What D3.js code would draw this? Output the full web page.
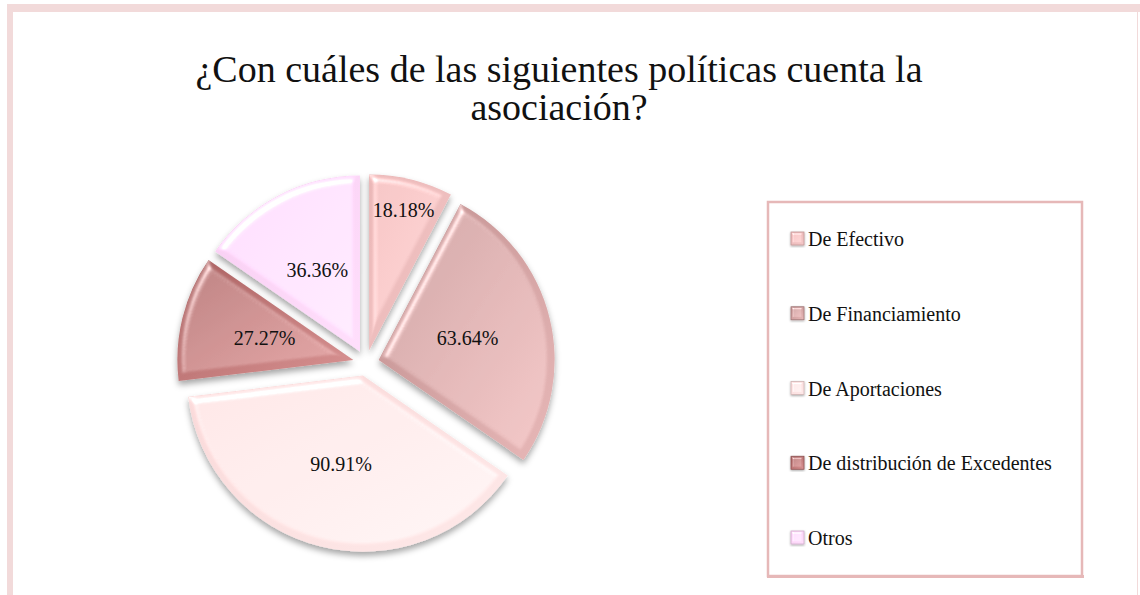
<!DOCTYPE html>
<html>
<head>
<meta charset="utf-8">
<script src="https://cdn.jsdelivr.net/npm/d3@7"></script>
<style>
  html, body { margin: 0; padding: 0; background: #fff; }
  svg { display: block; }
</style>
</head>
<body>
<div id="chart"></div>
<script>

/* chart values */
var categories = ["De Efectivo", "De Financiamiento", "De Aportaciones",
                  "De distribución de Excedentes", "Otros"];
var values = [18.18, 63.64, 90.91, 27.27, 36.36];
var sliceLabels = values.map(function(v) { return v.toFixed(2) + "%"; });
var titleLines = ["¿Con cuáles de las siguientes políticas cuenta la", "asociación?"];

/* dark / light end of each slice gradient */
var palette = [["#e8b3b3", "#f4c8c8"],
               ["#bf8e8e", "#e8b8b8"],
               ["#f9d8d8", "#fee9e9"],
               ["#a95f5f", "#d99393"],
               ["#f8cdf2", "#ffdffc"]];

var width = 1140, height = 595;
var serif = "'Liberation Serif', 'DejaVu Serif', serif";

var svg = d3.select("#chart").append("svg")
    .attr("width", width)
    .attr("height", height);

var defs = svg.append("defs");

palette.forEach(function(p, i) {
  var grad = defs.append("linearGradient")
      .attr("id", "grad" + i)
      .attr("x1", 0).attr("y1", 0)
      .attr("x2", 1).attr("y2", 1);
  grad.append("stop").attr("offset", "0%").attr("stop-color", p[0]);
  grad.append("stop").attr("offset", "100%").attr("stop-color", p[1]);
});

/* bevel + soft drop shadow, roughly like the office "soft edge" preset */
function makeBevel(id, blur, surface, shadowBlur, shadowDy) {
  var f = defs.append("filter")
      .attr("id", id)
      .attr("x", "-20%").attr("y", "-20%")
      .attr("width", "140%").attr("height", "140%");
  f.append("feGaussianBlur")
      .attr("in", "SourceAlpha").attr("stdDeviation", blur).attr("result", "blur");
  var spec = f.append("feSpecularLighting")
      .attr("in", "blur")
      .attr("surfaceScale", surface)
      .attr("specularConstant", 0.9)
      .attr("specularExponent", 18)
      .attr("lighting-color", "#ffffff")
      .attr("result", "spec");
  spec.append("feDistantLight").attr("azimuth", 235).attr("elevation", 40);
  f.append("feComposite")
      .attr("in", "spec").attr("in2", "SourceAlpha")
      .attr("operator", "in").attr("result", "specIn");
  f.append("feComposite")
      .attr("in", "SourceGraphic").attr("in2", "specIn")
      .attr("operator", "arithmetic")
      .attr("k1", 0).attr("k2", 1).attr("k3", 0.75).attr("k4", 0)
      .attr("result", "lit");
  f.append("feGaussianBlur")
      .attr("in", "SourceAlpha").attr("stdDeviation", shadowBlur).attr("result", "sblur");
  f.append("feOffset")
      .attr("in", "sblur").attr("dx", 0).attr("dy", shadowDy).attr("result", "soff");
  f.append("feFlood").attr("flood-color", "#000").attr("flood-opacity", 0.35).attr("result", "scol");
  f.append("feComposite")
      .attr("in", "scol").attr("in2", "soff").attr("operator", "in").attr("result", "shadow");
  var m = f.append("feMerge");
  m.append("feMergeNode").attr("in", "shadow");
  m.append("feMergeNode").attr("in", "lit");
}
makeBevel("bevel", 3.5, 5, 3, 4);
makeBevel("bevelSmall", 1.2, 3, 0.8, 1);

/* chart area frame */
svg.append("rect")
    .attr("x", 7).attr("y", 4)
    .attr("width", width - 7).attr("height", 8)
    .attr("fill", "#f2dada");
svg.append("rect")
    .attr("x", 7).attr("y", 4)
    .attr("width", 6).attr("height", height - 4)
    .attr("fill", "#f2dada");
svg.append("rect")
    .attr("x", 1137).attr("y", 12)
    .attr("width", 1).attr("height", height - 12)
    .attr("fill", "#f2dada");

/* title */
var title = svg.append("text")
    .attr("x", 559)
    .attr("text-anchor", "middle")
    .style("font-family", serif)
    .style("font-size", "38px")
    .attr("fill", "#111");
title.selectAll("tspan")
    .data(titleLines)
  .enter().append("tspan")
    .attr("x", 559)
    .attr("y", function(d, i) { return 82 + i * 38; })
    .text(function(d) { return d; });

/* pie */
var cx = 366, cy = 363, radius = 176, explode = 13;

var pie = d3.pie().sort(null).value(function(d) { return d; });
var arcs = pie(values);

var arc = d3.arc().innerRadius(0).outerRadius(radius);

var gPie = svg.append("g")
    .attr("transform", "translate(" + cx + "," + cy + ")");

function mid(d) { return (d.startAngle + d.endAngle) / 2; }

var slice = gPie.selectAll(".slice")
    .data(arcs)
  .enter().append("g")
    .attr("class", "slice")
    .attr("transform", function(d) {
      var a = mid(d);
      return "translate(" + (Math.sin(a) * explode) + "," + (-Math.cos(a) * explode) + ")";
    });

slice.append("path")
    .attr("d", arc)
    .attr("fill", function(d, i) { return "url(#grad" + i + ")"; })
    .attr("filter", "url(#bevel)");

/* narrow slices get their label pushed toward the rim */
slice.append("text")
    .attr("transform", function(d) {
      var a = mid(d),
          f = (d.endAngle - d.startAngle) < 0.6 ? 0.82 : 0.52;
      return "translate(" + (Math.sin(a) * radius * f) + "," + (-Math.cos(a) * radius * f) + ")";
    })
    .attr("text-anchor", "middle")
    .attr("dy", "0.35em")
    .style("font-family", serif)
    .style("font-size", "20px")
    .attr("fill", "#111")
    .text(function(d, i) { return sliceLabels[i]; });

/* legend */
var legend = svg.append("g");

legend.append("rect")
    .attr("x", 768).attr("y", 202)
    .attr("width", 314).attr("height", 374)
    .attr("fill", "#fff")
    .attr("stroke", "#e6b8b8")
    .attr("stroke-width", 2.5);
legend.append("rect")
    .attr("x", 767).attr("y", 575)
    .attr("width", 317).attr("height", 3)
    .attr("fill", "#e6b8b8");

var ly = d3.scalePoint().domain(categories).range([239, 538]);

var item = legend.selectAll(".item")
    .data(categories)
  .enter().append("g")
    .attr("class", "item")
    .attr("transform", function(d) { return "translate(791," + ly(d) + ")"; });

item.append("rect")
    .attr("x", 0).attr("y", -7)
    .attr("width", 13).attr("height", 13)
    .attr("fill", function(d, i) { return "url(#grad" + i + ")"; })
    .attr("stroke", function(d, i) { return d3.color(palette[i][0]).darker(0.5); })
    .attr("stroke-width", 0.8)
    .attr("filter", "url(#bevelSmall)");

item.append("text")
    .attr("x", 17)
    .attr("dy", "0.35em")
    .style("font-family", serif)
    .style("font-size", "20px")
    .attr("fill", "#111")
    .text(function(d) { return d; });

</script>
</body>
</html>
